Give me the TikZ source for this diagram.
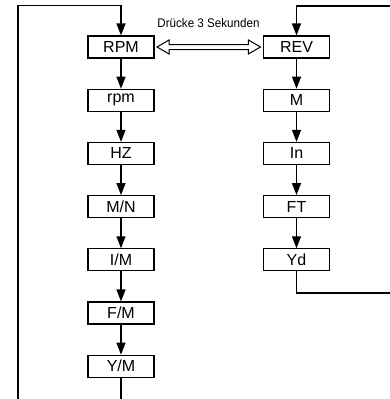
\documentclass[tikz,border=0pt]{standalone}
\usepackage{fontspec}
\setmainfont{Liberation Sans}
\usetikzlibrary{arrows.meta,calc}
\tikzset{
  box/.style={draw, line width=1.1pt, minimum width=66pt, minimum height=22pt, inner sep=0pt, font=\fontsize{16}{16}\selectfont},
  arr/.style={line width=1.3pt, -{Triangle[length=12pt,width=9pt]}},
}
\begin{document}
\begin{tikzpicture}[x=1pt,y=1pt]
\useasboundingbox (0,0) rectangle (389,-399);
% left column
\node[box] (RPM) at (121,-47) {RPM};
\node[box] (rpm) at (121,-100.2) {rpm};
\node[box] (HZ)  at (121,-153.4) {HZ};
\node[box] (MN)  at (121,-206.6) {M/N};
\node[box] (IM)  at (121,-259.8) {I/M};
\node[box] (FM)  at (121,-313) {F/M};
\node[box] (YM)  at (121,-366.2) {Y/M};
% right column
\node[box] (REV) at (296.5,-47) {REV};
\node[box] (M)   at (296.5,-100.2) {M};
\node[box] (In)  at (296.5,-153.4) {In};
\node[box] (FT)  at (296.5,-206.6) {FT};
\node[box] (Yd)  at (296.5,-259.8) {Yd};
% label
\node[anchor=base, inner sep=0pt, font=\fontsize{12.5}{12.5}\selectfont] (lbl) at (208.5,-27) {\scalebox{0.93}[1]{Drücke 3 Sekunden}};
% arrows down
\draw[arr] (RPM) -- (rpm);
\draw[arr] (rpm) -- (HZ);
\draw[arr] (HZ) -- (MN);
\draw[arr] (MN) -- (IM);
\draw[arr] (IM) -- (FM);
\draw[arr] (FM) -- (YM);
\draw[arr] (REV) -- (M);
\draw[arr] (M) -- (In);
\draw[arr] (In) -- (FT);
\draw[arr] (FT) -- (Yd);
% loops
\coordinate (lb) at (18,-410);
\coordinate (lt) at (18,-5.5);
\draw[arr] (YM.south) |- (lb) -- (lt) -| (RPM.north);
\coordinate (rb) at (400,-293);
\coordinate (rt) at (400,-6);
\draw[arr] (Yd.south) |- (rb) -- (rt) -| (REV.north);
% double hollow arrow
\coordinate (L) at ($(RPM.east)+(2.5,0)$);
\coordinate (R) at ($(REV.west)+(-2.5,0)$);
\draw[line width=1pt, fill=white, line join=miter]
  (L) -- ++(12,7) -- ++(0,-4.5) -- ($(R)+(-12,2.5)$) -- ++(0,4.5) -- (R)
  -- ++(-12,-7) -- ++(0,4.5) -- ($(L)+(12,-2.5)$) -- ++(0,-4.5) -- cycle;
\end{tikzpicture}
\end{document}
